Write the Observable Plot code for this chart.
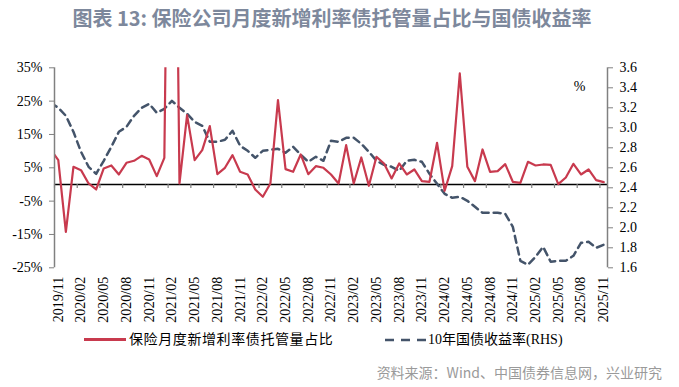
<!DOCTYPE html>
<html><head><meta charset="utf-8">
<script src="https://cdn.jsdelivr.net/npm/d3@7"></script>
<script src="https://cdn.jsdelivr.net/npm/@observablehq/plot@0.6"></script>
<style>
body{margin:0;background:#fff;}
#wrap{position:relative;width:679px;height:387px;overflow:hidden;background:#fff;}
#title{position:absolute;left:0;top:4px;width:664px;text-align:center;font-weight:bold;font-size:20px;font-family:"Noto Sans CJK SC","Noto Sans",sans-serif;color:#7d889c;line-height:28px;white-space:nowrap;}
#chart{position:absolute;left:0;top:40px;}
.leg{position:absolute;top:330px;font-family:"Liberation Serif","Noto Sans CJK SC",serif;font-size:14px;line-height:20px;color:#000;white-space:nowrap;}
#source{position:absolute;right:17px;top:362px;font-family:"Noto Sans CJK SC","Noto Sans",sans-serif;font-size:14px;line-height:20px;color:#9a9a9a;white-space:nowrap;}
</style></head>
<body>
<div id="wrap">
  <div id="title">图表 13: 保险公司月度新增利率债托管量占比与国债收益率</div>
  <div id="chart"></div>
  <div style="position:absolute;left:84px;top:338px;width:42px;height:3px;background:#c83a4e;"></div>
  <div class="leg" id="leg1" style="left:129px;letter-spacing:0.6px;"></div>
  <svg style="position:absolute;left:385px;top:336px;" width="44" height="8"><line x1="0" y1="4" x2="42" y2="4" stroke="#44546a" stroke-width="2.7" stroke-dasharray="9,7"/></svg>
  <div class="leg" id="leg2" style="left:428px;"></div>
  <div id="source">资料来源：Wind、中国债券信息网，兴业研究</div>
</div>
<script>
const seriesNames = ["保险月度新增利率债托管量占比", "10年国债收益率(RHS)"];
const months = ["2019/10","2019/11","2019/12",
"2020/01","2020/02","2020/03","2020/04","2020/05","2020/06","2020/07","2020/08","2020/09","2020/10","2020/11","2020/12",
"2021/01","2021/02","2021/03","2021/04","2021/05","2021/06","2021/07","2021/08","2021/09","2021/10","2021/11","2021/12",
"2022/01","2022/02","2022/03","2022/04","2022/05","2022/06","2022/07","2022/08","2022/09","2022/10","2022/11","2022/12",
"2023/01","2023/02","2023/03","2023/04","2023/05","2023/06","2023/07","2023/08","2023/09","2023/10","2023/11","2023/12",
"2024/01","2024/02","2024/03","2024/04","2024/05","2024/06","2024/07","2024/08","2024/09","2024/10","2024/11","2024/12",
"2025/01","2025/02","2025/03","2025/04","2025/05","2025/06","2025/07","2025/08","2025/09","2025/10","2025/11"];
// 保险月度新增利率债托管量占比 (%)
const insuranceShare = [10.5,7.3,-14.2,
5.3,4.3,0.3,-1.5,4.8,5.7,3.0,6.5,7.1,8.6,7.5,2.5,
8.0,200,0.3,20.8,7.3,10.3,17.5,3.1,5.0,8.8,3.8,3.0,
-1.5,-3.7,0.3,25.3,4.6,3.8,9.0,3.1,5.5,5.0,3.0,0.3,
11.8,0.3,8.1,-0.4,8.3,6.3,1.8,6.3,3.0,4.5,1.0,0.8,
12.5,-1.9,5.5,33.3,5.3,1.0,10.5,3.8,4.0,6.1,0.8,0.5,
6.8,5.7,6.0,5.9,0.1,2.1,6.2,3.0,4.5,1.3,0.7];
// 10年国债收益率 (%)
const cgb10y = [3.25,3.20,3.12,
2.96,2.76,2.61,2.54,2.67,2.81,2.96,3.01,3.12,3.20,3.24,3.15,
3.19,3.27,3.20,3.14,3.06,3.02,2.86,2.86,2.88,2.97,2.82,2.77,
2.70,2.77,2.78,2.79,2.75,2.81,2.73,2.66,2.71,2.67,2.87,2.86,
2.90,2.90,2.84,2.76,2.67,2.63,2.61,2.57,2.67,2.68,2.66,2.54,
2.44,2.34,2.30,2.31,2.27,2.21,2.15,2.15,2.15,2.14,2.01,1.67,
1.63,1.71,1.81,1.66,1.67,1.67,1.72,1.85,1.86,1.80,1.83];
const tickLabels = ["2019/11","2020/02","2020/05","2020/08","2020/11","2021/02","2021/05","2021/08","2021/11",
"2022/02","2022/05","2022/08","2022/11","2023/02","2023/05","2023/08","2023/11","2024/02","2024/05","2024/08",
"2024/11","2025/02","2025/05","2025/08","2025/11"];
const leftTicks = [-25,-15,-5,5,15,25,35];
const rightTicks = [1.6,1.8,2.0,2.2,2.4,2.6,2.8,3.0,3.2,3.4,3.6];

document.getElementById("leg1").textContent = seriesNames[0];
document.getElementById("leg2").textContent = seriesNames[1];

const red = "#c83a4e", blue = "#44546a", axisGray = "#808080";
const toLeft = v => (v - 1.6) * 30 - 25;
const fromLeft = d => (d + 25) / 30 + 1.6;
const rows = months.map((m, i) => ({m, x: i - 0.5, share: insuranceShare[i], y10: toLeft(cgb10y[i])}));
const labelPos = tickLabels.map(l => months.indexOf(l) - 0.5);
const boundaries = labelPos.map(p => p - 0.5);
const nCats = months.length - 1;

const chart = Plot.plot({
  width: 679, height: 290,
  marginTop: 27.3, marginBottom: 62.7, marginLeft: 54, marginRight: 72,
  x: {domain: [0, nCats], axis: null},
  y: {domain: [-25, 35], axis: null},
  style: {fontFamily: "Liberation Serif", fontSize: "14px", color: "#000", background: "#fff", overflow: "visible"},
  marks: [
    Plot.ruleY([0], {stroke: "#000", strokeWidth: 1.5}),
    Plot.ruleX(boundaries, {x: d => d, y1: 0, y2: 0, insetBottom: -4, stroke: axisGray, strokeWidth: 1.2}),
    Plot.line(rows, {x: "x", y: "y10", stroke: blue, strokeWidth: 2.5, strokeDasharray: "7,5", clip: true}),
    Plot.line(rows, {x: "x", y: "share", stroke: red, strokeWidth: 2.2, clip: true}),
    Plot.ruleX([0, nCats], {stroke: axisGray, strokeWidth: 1.5}),
    Plot.axisY({ticks: leftTicks, tickFormat: d => d + "%", tickSize: 5, tickPadding: 7, stroke: axisGray, fill: "#000", label: null, fontSize: 14}),
    Plot.axisY({anchor: "right", ticks: rightTicks.map(toLeft), tickFormat: d => fromLeft(d).toFixed(1), tickSize: 5, tickPadding: 7, stroke: axisGray, fill: "#000", label: null, fontSize: 14}),
    Plot.axisX({ticks: labelPos, tickFormat: d => tickLabels[labelPos.indexOf(d)], tickSize: 0, tickRotate: -90, tickPadding: 9, label: null, fontSize: 14, fill: "#000"}),
    Plot.text(["%"], {frameAnchor: "top-right", dx: -22, dy: 13, fontSize: 14, fill: "#000"})
  ]
});
document.getElementById("chart").appendChild(chart);
</script>
</body></html>
